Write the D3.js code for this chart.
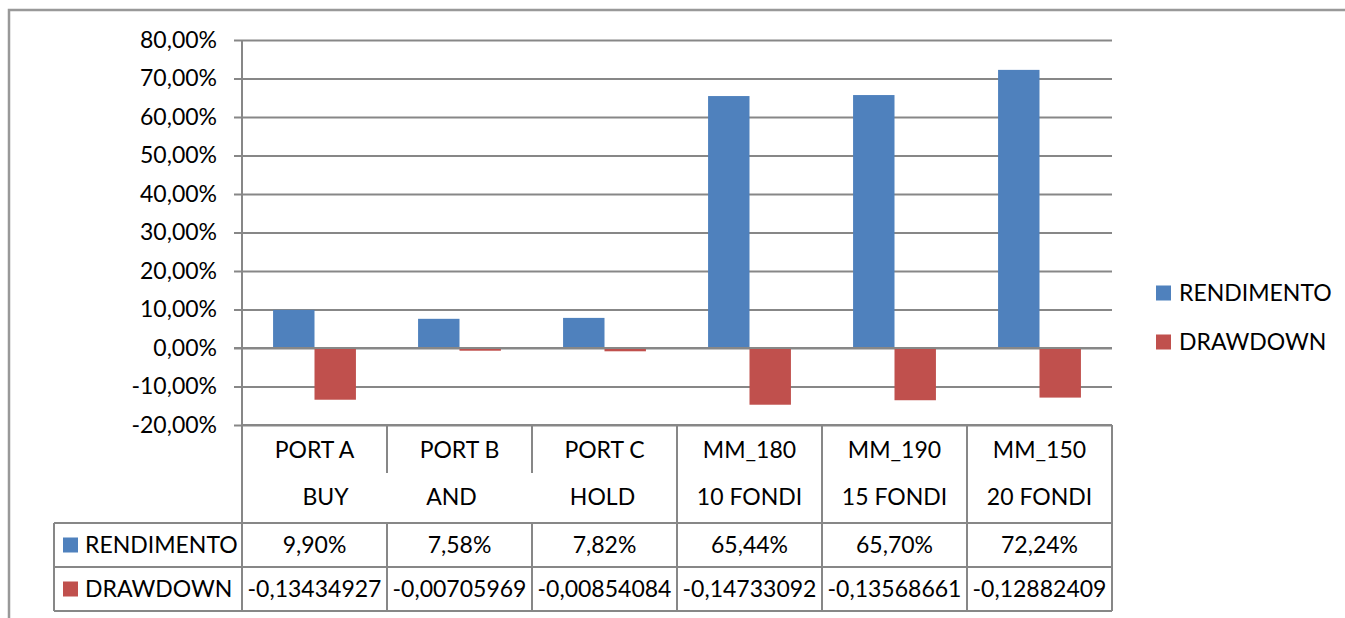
<!DOCTYPE html>
<html>
<head>
<meta charset="utf-8">
<script src="https://cdn.jsdelivr.net/npm/d3@7"></script>
<style>
  html, body { margin: 0; padding: 0; background: #fff; }
  svg text { font-family: Lato, "Liberation Sans", sans-serif; fill: #000; }
</style>
</head>
<body>
<svg id="chart" width="1345" height="618"></svg>
<script>
// Portfolio names (first category level) and strategy labels (second level)
const categories = ["PORT A", "PORT B", "PORT C", "MM_180", "MM_190", "MM_150"];
const subLabels = ["BUY", "AND", "HOLD", "10 FONDI", "15 FONDI", "20 FONDI"];
const seriesNames = ["RENDIMENTO", "DRAWDOWN"];
const rendimento = [0.0990, 0.0758, 0.0782, 0.6544, 0.6570, 0.7224];
const drawdown = [-0.13434927, -0.00705969, -0.00854084, -0.14733092, -0.13568661, -0.12882409];
const yTicks = [-0.2, -0.1, 0, 0.1, 0.2, 0.3, 0.4, 0.5, 0.6, 0.7, 0.8];
const colors = ["#4F81BD", "#C0504D"];

const gridColor = "#878787";
const fontSize = 23;

const svg = d3.select("#chart");

// Outer chart frame (left and top edges)
svg.append("path")
  .attr("d", "M9,618 L9,10 L1345,10")
  .attr("fill", "none")
  .attr("stroke", "#999")
  .attr("stroke-width", 2.5);

const plotLeft = 242, plotRight = 1112, plotTop = 40, plotBottom = 425;

const x = d3.scaleBand().domain(categories).range([plotLeft, plotRight]).paddingInner(0).paddingOuter(0);
const y = d3.scaleLinear().domain([-0.2, 0.8]).range([plotBottom, plotTop]);

// Bar width with a 150% gap between category clusters
const barW = x.bandwidth() / 3.5;
const xs = d3.scaleBand().domain(seriesNames).range([0.75 * barW, 2.75 * barW]).padding(0);

// Italian-style percent with a plain hyphen for negatives
const fmtPct = v => d3.format(".2f")(v * 100).replace(".", ",").replace("\u2212", "-") + "%";

// Gridlines and tick marks
const yAxis = d3.axisLeft(y)
  .tickValues(yTicks)
  .tickSize(-(plotRight - plotLeft) - 8)
  .tickPadding(16)
  .tickFormat(fmtPct);

const gy = svg.append("g")
  .attr("transform", `translate(${plotLeft},0)`)
  .call(yAxis);
gy.select(".domain").remove();
gy.selectAll(".tick line")
  .attr("x1", -8)
  .attr("x2", plotRight - plotLeft)
  .attr("stroke", gridColor)
  .attr("stroke-width", 2);
gy.selectAll(".tick text")
  .attr("x", -25)
  .attr("font-size", fontSize)
  .attr("font-family", "Lato, 'Liberation Sans', sans-serif")
  .attr("fill", "#000");

// Vertical value axis line
svg.append("line")
  .attr("x1", plotLeft).attr("x2", plotLeft)
  .attr("y1", plotTop).attr("y2", plotBottom)
  .attr("stroke", gridColor).attr("stroke-width", 2);

// Bars
const seriesData = [rendimento, drawdown];
seriesData.forEach((vals, si) => {
  svg.append("g").selectAll("rect")
    .data(vals)
    .join("rect")
    .attr("x", (d, i) => x(categories[i]) + xs(seriesNames[si]))
    .attr("width", xs.bandwidth())
    .attr("y", d => Math.min(y(d), y(0)))
    .attr("height", d => Math.abs(y(d) - y(0)))
    .attr("fill", colors[si]);
});

// Zero line over the bars
svg.append("line")
  .attr("x1", plotLeft - 8).attr("x2", plotRight)
  .attr("y1", y(0)).attr("y2", y(0))
  .attr("stroke", gridColor).attr("stroke-width", 2);

// Data table below the plot
const tableLeft = 54;
const headTop = plotBottom, headMid = 473, headBottom = 523;
const rowH = 44;
const rowTops = [headBottom, headBottom + rowH];
const tableBottom = headBottom + 2 * rowH;
const tbl = svg.append("g").attr("stroke", gridColor).attr("stroke-width", 2);

// horizontal rules
[headBottom, headBottom + rowH, tableBottom].forEach(yy => {
  tbl.append("line").attr("x1", tableLeft).attr("x2", plotRight).attr("y1", yy).attr("y2", yy);
});
tbl.append("line").attr("x1", plotLeft).attr("x2", plotRight).attr("y1", headTop).attr("y2", headTop);

// vertical rules
tbl.append("line").attr("x1", tableLeft).attr("x2", tableLeft).attr("y1", headBottom).attr("y2", tableBottom);
tbl.append("line").attr("x1", plotLeft).attr("x2", plotLeft).attr("y1", headTop).attr("y2", tableBottom);
tbl.append("line").attr("x1", plotRight).attr("x2", plotRight).attr("y1", headTop).attr("y2", tableBottom);
categories.slice(1).forEach((c, i) => {
  const xx = x(c);
  const shortDiv = i < 2; // dividers inside the BUY AND HOLD group stop after the first header line
  tbl.append("line").attr("x1", xx).attr("x2", xx)
    .attr("y1", headTop).attr("y2", shortDiv ? headMid : tableBottom);
  if (!shortDiv) return;
  tbl.append("line").attr("x1", xx).attr("x2", xx)
    .attr("y1", headBottom).attr("y2", tableBottom);
});

// header labels
const subOffsets = [11, -8, -2, 0, 0, 0];
svg.append("g").selectAll("text")
  .data(categories)
  .join("text")
  .attr("x", d => x(d) + x.bandwidth() / 2)
  .attr("y", 450)
  .attr("dy", "0.35em")
  .attr("text-anchor", "middle")
  .attr("font-size", fontSize)
  .text(d => d);
svg.append("g").selectAll("text")
  .data(subLabels)
  .join("text")
  .attr("x", (d, i) => x(categories[i]) + x.bandwidth() / 2 + subOffsets[i])
  .attr("y", 497)
  .attr("dy", "0.35em")
  .attr("text-anchor", "middle")
  .attr("font-size", fontSize)
  .text(d => d);

// value rows
const fmtDec = v => String(v).replace(".", ",");
const rowFormats = [fmtPct, fmtDec];
seriesData.forEach((vals, si) => {
  const cy = rowTops[si] + rowH / 2;
  svg.append("rect")
    .attr("x", 63).attr("y", cy - 7.5).attr("width", 15).attr("height", 15)
    .attr("fill", colors[si]);
  svg.append("text")
    .attr("x", 85).attr("y", cy).attr("dy", "0.35em")
    .attr("font-size", fontSize)
    .text(seriesNames[si]);
  svg.append("g").selectAll("text")
    .data(vals)
    .join("text")
    .attr("x", (d, i) => x(categories[i]) + x.bandwidth() / 2)
    .attr("y", cy)
    .attr("dy", "0.35em")
    .attr("text-anchor", "middle")
    .attr("font-size", fontSize)
    .text(d => rowFormats[si](d));
});

// Legend on the right
const legend = svg.append("g");
seriesNames.forEach((name, i) => {
  const cy = 293 + i * 49;
  legend.append("rect")
    .attr("x", 1156).attr("y", cy - 7.5).attr("width", 15).attr("height", 15)
    .attr("fill", colors[i]);
  legend.append("text")
    .attr("x", 1179).attr("y", cy).attr("dy", "0.35em")
    .attr("font-size", fontSize)
    .text(name);
});
</script>
</body>
</html>
